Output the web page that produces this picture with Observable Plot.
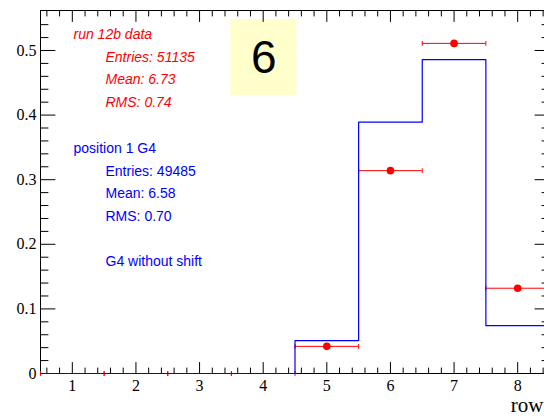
<!DOCTYPE html>
<html><head><meta charset="utf-8">
<script src="https://cdn.jsdelivr.net/npm/d3@7"></script>
<script src="https://cdn.jsdelivr.net/npm/@observablehq/plot@0.6"></script>
<style>html,body{margin:0;padding:0;background:#fff;overflow:hidden;width:544px;height:416px}</style>
</head><body><div id="chart"></div>
<script>
// ---- data ----
const rows = [1, 2, 3, 4, 5, 6, 7, 8];
const dataValues = [0, 0, 0, 0, 0.042, 0.314, 0.511, 0.132];   // run 12b data (red points)
const g4Values = [0, 0, 0, 0, 0.051, 0.389, 0.486, 0.074];     // position 1 G4 (blue histogram)
const xTickLabels = [1, 2, 3, 4, 5, 6, 7, 8];
const yTickLabels = [0, 0.1, 0.2, 0.3, 0.4, 0.5];
const redLegend = ["run 12b data", "Entries: 51135", "Mean: 6.73", "RMS: 0.74"];
const blueLegend = ["position 1 G4", "Entries: 49485", "Mean: 6.58", "RMS: 0.70", "", "G4 without shift"];
const padLabel = ["6"];
const xTitle = ["row"];

// ---- derived tables ----
const xMinor = d3.range(3, 43).filter(i => i % 5 !== 0).map(i => i / 5);
const yMinor = d3.range(1, 28).filter(i => i % 5 !== 0).map(i => i / 50);
const redTable = rows.map((x, i) => ({x, v: dataValues[i]}));
const blueSteps = rows.map((x, i) => ({x: x - 0.5, v: g4Values[i]}))
  .concat([{x: rows[rows.length - 1] + 0.5, v: g4Values[g4Values.length - 1]}]);
const caps = redTable.flatMap(d => [{x: d.x - 0.5, v: d.v}, {x: d.x + 0.5, v: d.v}]);
const padBox = [{x1: 3.49, x2: 4.53, y1: 0.43, y2: 0.548, label: padLabel[0]}];

const line = {draw(ctx, l) { ctx.moveTo(0, 0); ctx.lineTo(0, -l); }};
const serif = "'Liberation Serif', 'Times New Roman', Times, serif";
const sans = "'Liberation Sans', Arial, Helvetica, sans-serif";

const tickMarks = (vals, axis, len) => {
  const horiz = axis === "bottom" || axis === "top";
  const rot = {bottom: 0, top: 180, left: 90, right: -90}[axis];
  return Plot.vector(vals, {
    [horiz ? "x" : "y"]: d => d, frameAnchor: axis, rotate: rot,
    length: len, anchor: "start", shape: line, stroke: "#000", strokeWidth: 1
  });
};

const legendMarks = (lines, color, italic, top) => lines.map((t, i) => Plot.text([t], {
  text: d => d, frameAnchor: "top-left", dx: i === 0 ? 33 : 65, dy: top + i * 22.6,
  textAnchor: "start", lineAnchor: "middle", fill: color, fontSize: 14,
  fontFamily: sans, fontStyle: italic ? "italic" : "normal"
}));

const chart = Plot.plot({
  width: 556, height: 416,
  marginLeft: 40, marginRight: 7, marginTop: 10, marginBottom: 43,
  style: {maxWidth: "none", background: "white", overflow: "visible"},
  x: {domain: [0.5, 8.5], axis: null},
  y: {domain: [0, 0.5619], axis: null},
  marks: [
    Plot.rect(padBox, {x1: "x1", x2: "x2", y1: "y1", y2: "y2", fill: "#ffffcc"}),
    Plot.text(padBox, {x: d => (d.x1 + d.x2) / 2, y: d => (d.y1 + d.y2) / 2, text: "label",
      fontSize: 46, fontFamily: sans, fill: "#000", lineAnchor: "middle", dy: 1}),
    Plot.frame({stroke: "#000", strokeWidth: 1}),
    tickMarks(xTickLabels, "bottom", 11),
    tickMarks(xMinor, "bottom", 5.5),
    tickMarks(xTickLabels, "top", 11),
    tickMarks(xMinor, "top", 5.5),
    tickMarks(yTickLabels, "left", 14.5),
    tickMarks(yMinor, "left", 7.5),
    tickMarks(yTickLabels, "right", 14.5),
    tickMarks(yMinor, "right", 7.5),
    Plot.text(xTickLabels, {x: d => d, text: d => String(d), frameAnchor: "bottom", dy: 17,
      lineAnchor: "bottom", textAnchor: "middle", fontSize: 16, fontFamily: serif, fill: "#000"}),
    Plot.text(yTickLabels, {y: d => d, text: d => String(d), frameAnchor: "left", dx: -4,
      lineAnchor: "middle", textAnchor: "end", fontSize: 16, fontFamily: serif, fill: "#000"}),
    Plot.text(xTitle, {text: d => d, frameAnchor: "bottom-right", dx: -6, dy: 38,
      lineAnchor: "bottom", textAnchor: "end", fontSize: 21, fontFamily: serif, fill: "#000"}),
    Plot.ruleY(redTable, {y: "v", x1: d => d.x - 0.5, x2: d => d.x + 0.5, stroke: "red", strokeWidth: 1}),
    Plot.vector(caps, {x: "x", y: "v", length: 4, anchor: "middle", shape: line, stroke: "red", strokeWidth: 1}),
    Plot.line(blueSteps, {x: "x", y: "v", curve: "step-after", stroke: "#0000ff", strokeWidth: 1.2}),
    Plot.dot(redTable.filter(d => d.v > 0), {x: "x", y: "v", r: 3.8, fill: "red", stroke: "none"}),
    ...legendMarks(redLegend, "red", true, 24),
    ...legendMarks(blueLegend, "blue", false, 138.3)
  ]
});
document.getElementById("chart").appendChild(chart);
</script>
</body></html>
